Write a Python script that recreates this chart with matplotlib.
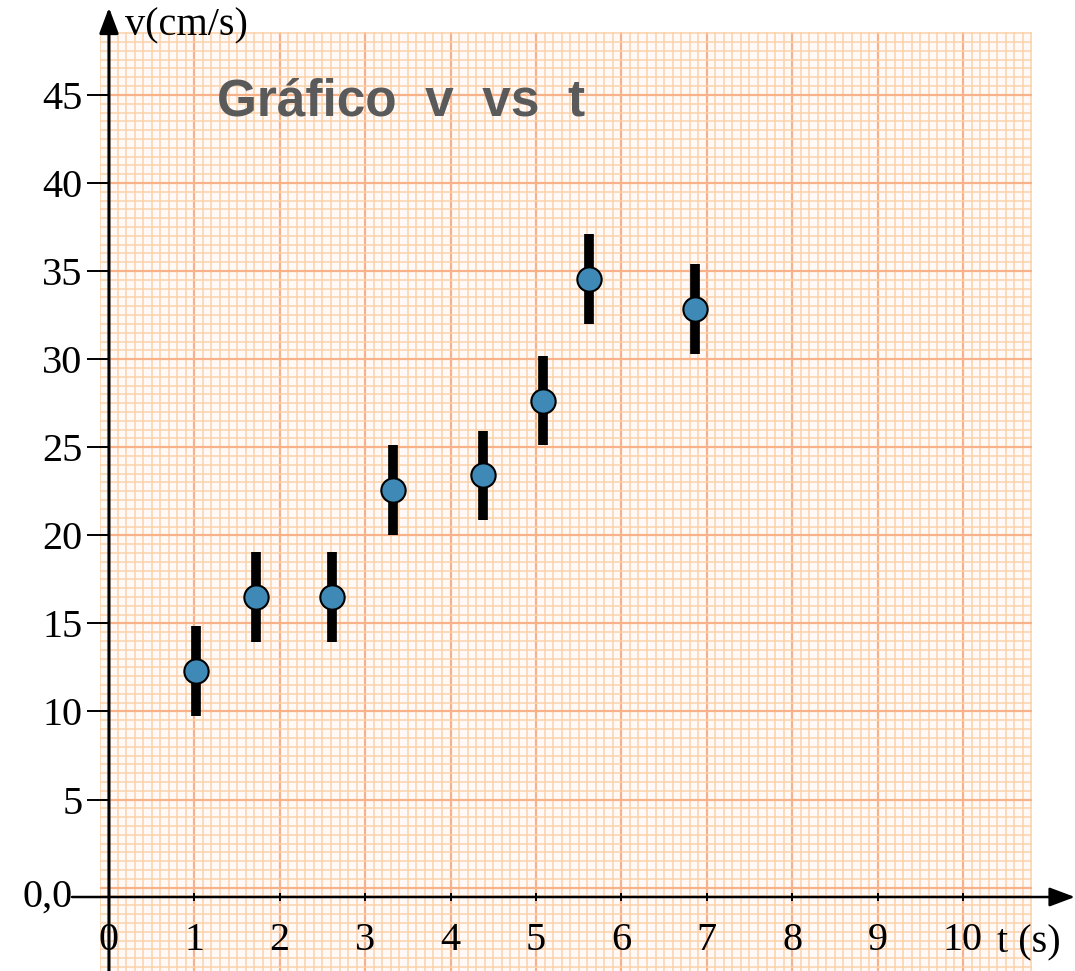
import numpy as np
import matplotlib
matplotlib.use("Agg")
import matplotlib.pyplot as plt

# datos
t = [1.02, 1.72, 2.61, 3.33, 4.38, 5.08, 5.62, 6.86]          # s
v = [12.3, 16.5, 16.5, 22.55, 23.4, 27.65, 34.55, 32.85]      # cm/s
v_err = [2.55, 2.55, 2.55, 2.55, 2.55, 2.55, 2.55, 2.55]
x_ticks = [0, 1, 2, 3, 4, 5, 6, 7, 8, 9, 10]
y_ticks = [5, 10, 15, 20, 25, 30, 35, 40, 45]

serif = "Liberation Serif"
W, H = 1075, 971

fig = plt.figure(figsize=(W / 100, H / 100), dpi=100)
ax = fig.add_axes([100 / W, 0, 932 / W, 939 / H])
ax.set_xlim(-0.105, 10.808)
ax.set_ylim(-4.73, 48.57)
ax.set_facecolor("#fffaf7")

# papel milimetrado
for xx in np.arange(-0.1, 10.85, 0.1):
    major = abs(xx - round(xx)) < 1e-6
    ax.axvline(xx, color="#f7b28a" if major else "#fbd2ab",
               lw=1.6 if major else 1.1, zorder=0)
for yy in np.arange(-4.5, 48.6, 0.5):
    major = abs(yy / 5 - round(yy / 5)) < 1e-6
    ax.axhline(yy, color="#f7b28a" if major else "#fbd2ab",
               lw=1.6 if major else 1.1, zorder=0)

# ejes
for s in ax.spines.values():
    s.set_visible(False)
ax.spines["left"].set_position(("data", 0))
ax.spines["bottom"].set_position(("data", -0.53))

ax.set_xticks(x_ticks)
ax.set_yticks(y_ticks)
ax.tick_params(axis="y", direction="out", length=16, width=1.4, pad=3,
               labelsize=29, color="black")
ax.tick_params(axis="x", direction="inout", length=6, width=1.4, pad=15,
               labelsize=29, color="black")
for lab in ax.get_xticklabels() + ax.get_yticklabels():
    lab.set_fontfamily(serif)

arrow = dict(arrowstyle="-|>,head_length=1.2,head_width=0.45", lw=2.2,
             color="black", shrinkA=0, shrinkB=0, mutation_scale=13)
ax.annotate("", xy=(0, 1.026), xytext=(0, 0),
            xycoords=("data", "axes fraction"), textcoords=("data", "axes fraction"),
            arrowprops=arrow, annotation_clip=False)
arrow_x = dict(arrow, lw=1.8)
ax.annotate("", xy=(11.31, -0.53), xytext=(-0.433, -0.53),
            arrowprops=arrow_x, annotation_clip=False)
ax.text(-0.43, -0.53, "0,0", ha="right", va="center", fontsize=29,
        family=serif, clip_on=False)

fig.text(125 / W, 1 - 35 / H, "v(cm/s)", fontsize=29, family=serif, va="baseline")
fig.text(997 / W, 1 - 952 / H, "t (s)", fontsize=29, family=serif, va="baseline")
fig.text(217 / W, 1 - 115 / H, "Gráfico  v  vs  t", fontsize=37, fontweight="bold",
         family="Liberation Sans", color="#5a5a5a", va="baseline")

# puntos con barras de error
ax.errorbar(t, v, yerr=v_err, fmt="none", ecolor="black", elinewidth=7,
            capsize=0, zorder=3)
ax.plot(t, v, "o", ms=17.5, mfc="#3e89b6", mec="black", mew=1.5, zorder=4)

fig.savefig("out.png", dpi=100)
